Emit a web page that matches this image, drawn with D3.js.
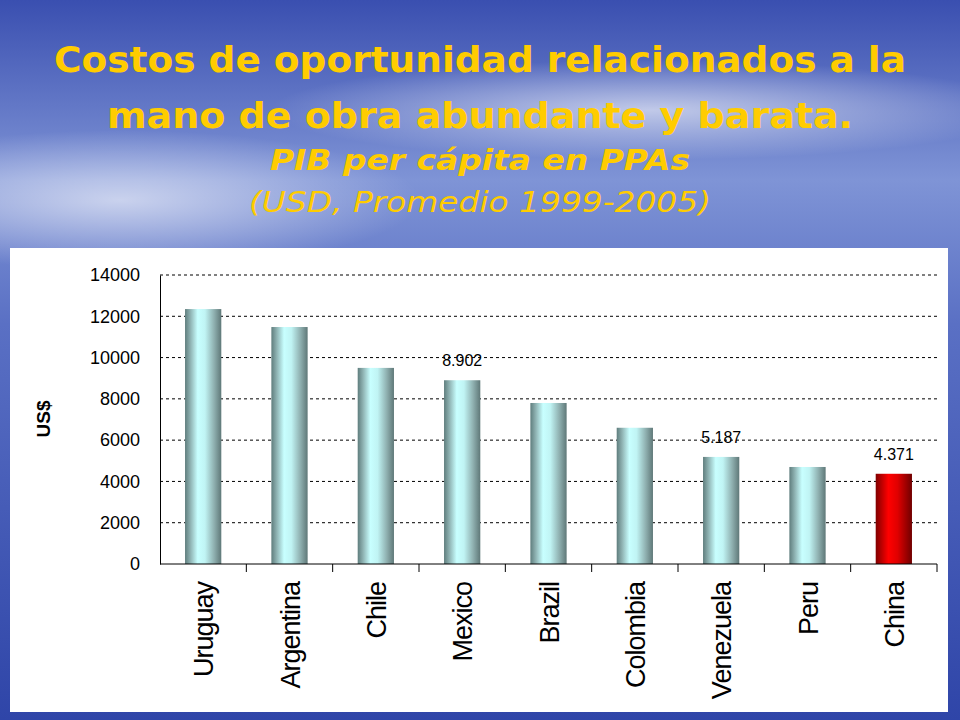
<!DOCTYPE html>
<html>
<head>
<meta charset="utf-8">
<script src="https://cdn.jsdelivr.net/npm/d3@7"></script>
<style>
  body { margin: 0; }
</style>
</head>
<body>
<script>
// PIB per capita chart

var countries = ['Uruguay', 'Argentina', 'Chile', 'Mexico', 'Brazil', 'Colombia', 'Venezuela', 'Peru', 'China'];
var gdpValues = [12350, 11480, 9500, 8902, 7800, 6600, 5187, 4700, 4371];
var valueLabels = { 'Mexico': '8.902', 'Venezuela': '5.187', 'China': '4.371' };
var yTicks = [0, 2000, 4000, 6000, 8000, 10000, 12000, 14000];

var draw = function() {
  let width = 960, height = 720;
  let svg = d3.select('body').append('svg')
    .attr('width', width).attr('height', height);
  let defs = svg.append('defs');

  // sky background
  let bg = defs.append('linearGradient').attr('id', 'sky')
    .attr('x1', 0).attr('y1', 0).attr('x2', 0).attr('y2', 1);
  bg.append('stop').attr('offset', '0%').attr('stop-color', '#3a4fb0');
  bg.append('stop').attr('offset', '25%').attr('stop-color', '#7f94d6');
  bg.append('stop').attr('offset', '45%').attr('stop-color', '#5a70c4');
  bg.append('stop').attr('offset', '100%').attr('stop-color', '#2f45a8');
  svg.append('rect').attr('width', width).attr('height', height).attr('fill', 'url(#sky)');

  let glow = defs.append('radialGradient').attr('id', 'glow');
  glow.append('stop').attr('offset', '0%').attr('stop-color', '#ffffff').attr('stop-opacity', 0.6);
  glow.append('stop').attr('offset', '100%').attr('stop-color', '#ffffff').attr('stop-opacity', 0);
  svg.append('ellipse').attr('cx', 120).attr('cy', 200).attr('rx', 300).attr('ry', 70).attr('fill', 'url(#glow)');
  svg.append('ellipse').attr('cx', 650).attr('cy', 110).attr('rx', 380).attr('ry', 50).attr('fill', 'url(#glow)');

  // bar gradients
  let cyl = defs.append('linearGradient').attr('id', 'cyl');
  [['0%', '#5f7d7d'], ['15%', '#8fb3b3'], ['35%', '#c8ffff'], ['55%', '#c0f4f4'], ['80%', '#8fb0b0'], ['100%', '#5f7878']]
    .forEach(s => cyl.append('stop').attr('offset', s[0]).attr('stop-color', s[1]));
  let red = defs.append('linearGradient').attr('id', 'red');
  [['0%', '#800000'], ['35%', '#ff0000'], ['60%', '#e00000'], ['100%', '#700000']]
    .forEach(s => red.append('stop').attr('offset', s[0]).attr('stop-color', s[1]));

  // titles
  let title = svg.append('g').attr('fill', '#ffcc00').attr('text-anchor', 'middle')
    .style('font-family', '"DejaVu Sans", sans-serif');
  let addTitle = (txt, yy, size, len, bold, italic) => title.append('text')
    .attr('x', 480).attr('y', yy).attr('font-size', size)
    .attr('font-weight', bold ? 'bold' : 'normal').attr('font-style', italic ? 'italic' : 'normal')
    .attr('textLength', len).attr('lengthAdjust', 'spacingAndGlyphs').text(txt);
  addTitle('Costos de oportunidad relacionados a la', 72, 36, 852, true, false);
  addTitle('mano de obra abundante y barata.', 128, 36, 746, true, false);
  addTitle('PIB per cápita en PPAs', 170, 28, 420, true, true);
  addTitle('(USD, Promedio 1999-2005)', 212, 29, 462, false, true);

  // white panel
  svg.append('rect').attr('x', 10).attr('y', 248).attr('width', 938).attr('height', 464).attr('fill', '#fff');

  let x = d3.scaleBand().domain(countries).range([160, 937]).paddingInner(0.58).paddingOuter(0.29);
  let y = d3.scaleLinear().domain([0, 14000]).range([564, 275]);
  let font = 'Arial, "Liberation Sans", sans-serif';

  // gridlines
  svg.append('g').selectAll('line').data(yTicks.slice(1)).enter().append('line')
    .attr('x1', 160).attr('x2', 937).attr('y1', d => y(d)).attr('y2', d => y(d))
    .attr('stroke', '#000').attr('stroke-dasharray', '3,3');

  // bars
  svg.append('g').selectAll('rect').data(countries).enter().append('rect')
    .attr('x', d => x(d)).attr('width', x.bandwidth())
    .attr('y', (d, i) => y(gdpValues[i])).attr('height', (d, i) => y(0) - y(gdpValues[i]))
    .attr('fill', d => d === 'China' ? 'url(#red)' : 'url(#cyl)');

  // value labels
  svg.append('g').selectAll('text').data(countries.filter(c => valueLabels[c])).enter().append('text')
    .attr('x', d => x(d) + x.bandwidth() / 2)
    .attr('y', d => y(gdpValues[countries.indexOf(d)]) - 14)
    .attr('text-anchor', 'middle').style('font-family', font).attr('font-size', 16)
    .text(d => valueLabels[d]);

  // y axis
  let yAxis = svg.append('g').attr('transform', 'translate(160,0)')
    .call(d3.axisLeft(y).tickValues(yTicks).tickSize(0).tickPadding(20).tickFormat(d3.format('d')));
  yAxis.select('.domain').attr('stroke', '#000');
  yAxis.selectAll('text').style('font-family', font).attr('font-size', 18).attr('fill', '#000');

  // x axis
  let xAxis = svg.append('g').attr('transform', 'translate(0,564)');
  xAxis.append('line').attr('x1', 160).attr('x2', 937).attr('stroke', '#000');
  xAxis.selectAll('.tk').data(countries).enter().append('line')
    .attr('x1', d => x(d) + x.bandwidth() + x.step() * 0.29).attr('x2', d => x(d) + x.bandwidth() + x.step() * 0.29)
    .attr('y1', 0).attr('y2', 8).attr('stroke', '#000');
  xAxis.selectAll('text').data(countries).enter().append('text')
    .attr('transform', d => 'translate(' + (x(d) + x.bandwidth() / 2 + 10) + ',18) rotate(-90)')
    .attr('text-anchor', 'end').style('font-family', font).attr('font-size', 27).attr('letter-spacing', -1)
    .text(d => d);

  svg.append('text').attr('transform', 'translate(50,419) rotate(-90)').attr('text-anchor', 'middle')
    .style('font-family', font).attr('font-size', 19).attr('font-weight', 'bold').text('US$');
};

draw();
</script>
</body>
</html>
